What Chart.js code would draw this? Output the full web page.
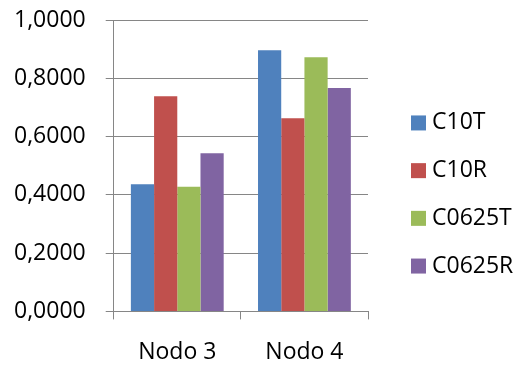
<!DOCTYPE html>
<html>
<head>
<meta charset="utf-8">
<script src="https://cdn.jsdelivr.net/npm/chart.js@4"></script>
<style>
  html, body { margin: 0; padding: 0; background: #fff; }
</style>
</head>
<body>
<canvas id="bar-chart" width="517" height="369"></canvas>
<script>
var categories = ["Nodo 3", "Nodo 4"];
var seriesNames = ["C10T", "C10R", "C0625T", "C0625R"];
var c10t = [0.436, 0.896];
var c10r = [0.738, 0.663];
var c0625t = [0.428, 0.872];
var c0625r = [0.543, 0.767];
var colors = ["#4F81BD", "#C0504D", "#9BBB59", "#8064A2"];

var values = [c10t, c10r, c0625t, c0625r];
var datasets = seriesNames.map(function(name, i) {
  return {
    label: name,
    data: values[i],
    backgroundColor: colors[i],
    barPercentage: 1,
    categoryPercentage: 0.73
  };
});

Chart.defaults.font.family = "'Open Sans', sans-serif";
Chart.defaults.font.size = 23;
Chart.defaults.color = "#000";

// legend drawn beside the plot, Excel style
var sideLegend = {
  id: 'sideLegend',
  afterDraw: function(chart) {
    var ctx = chart.ctx;
    var area = chart.chartArea;
    var rowGap = 47.7;
    var box = 15;
    var x = area.right + 43;
    var midY = chart.height / 2 + 10;
    var startY = midY - rowGap * (chart.data.datasets.length - 1) / 2;
    ctx.save();
    ctx.font = "23px 'Open Sans', sans-serif";
    ctx.textBaseline = 'middle';
    ctx.textAlign = 'left';
    chart.data.datasets.forEach(function(ds, i) {
      var y = startY + i * rowGap;
      ctx.fillStyle = ds.backgroundColor;
      ctx.fillRect(x, y - box / 2, box, box);
      ctx.fillStyle = '#000';
      ctx.fillText(ds.label, x + 21, y);
    });
    ctx.restore();
  }
};

new Chart(document.getElementById("bar-chart"), {
  type: 'bar',
  data: { labels: categories, datasets: datasets },
  plugins: [sideLegend],
  options: {
    responsive: false,
    animation: false,
    layout: { padding: { top: 20, left: -6, right: 149, bottom: -16 } },
    plugins: {
      legend: { display: false },
      tooltip: { enabled: false }
    },
    scales: {
      x: {
        grid: {
          drawOnChartArea: false,
          drawTicks: true,
          tickLength: 8,
          color: "#868686"
        },
        border: { color: "#868686" },
        ticks: { padding: 19 }
      },
      y: {
        min: 0,
        max: 1,
        ticks: {
          stepSize: 0.2,
          padding: 20,
          callback: function(v) { return v.toFixed(4).replace('.', ','); }
        },
        grid: { color: "#868686", tickLength: 8 },
        border: { color: "#868686" },
        afterFit: function(scale) { scale.paddingTop = 0; }
      }
    }
  }
});
</script>
</body>
</html>
